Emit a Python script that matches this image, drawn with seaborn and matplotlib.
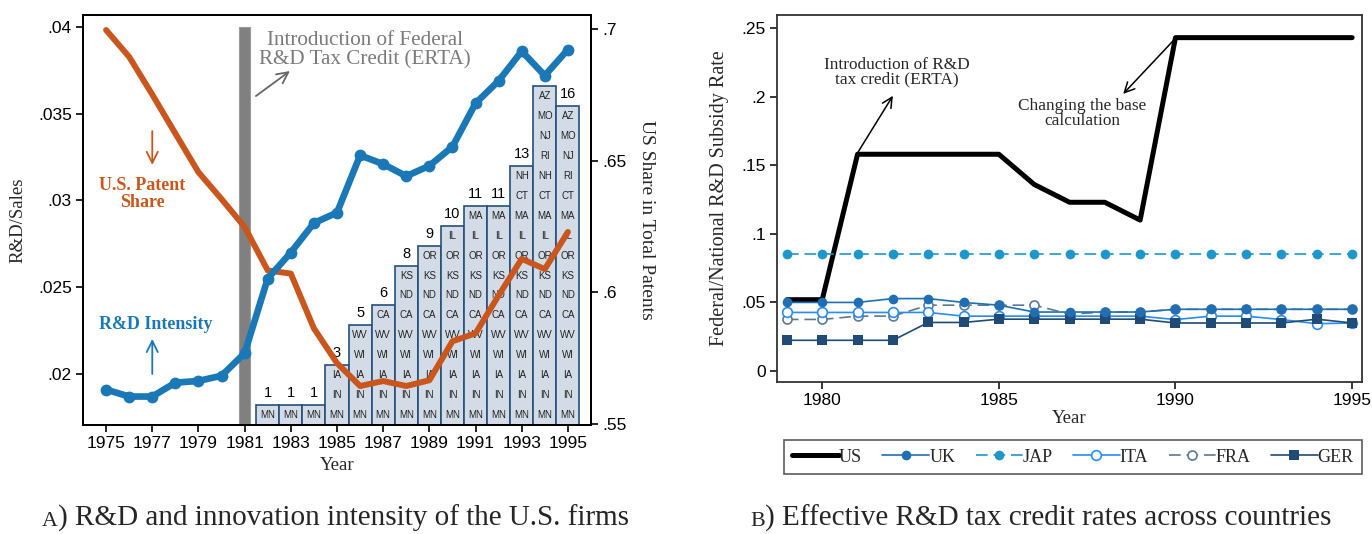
import matplotlib
matplotlib.use("Agg")
import matplotlib.pyplot as plt
from matplotlib.ticker import FixedLocator, FuncFormatter
from matplotlib.lines import Line2D
import pandas as pd
import seaborn as sns

# ---------------- Panel A: U.S. firms ----------------
years_a = [1975, 1976, 1977, 1978, 1979, 1980, 1981, 1982, 1983, 1984, 1985,
           1986, 1987, 1988, 1989, 1990, 1991, 1992, 1993, 1994, 1995]
rd_sales = [0.0191, 0.0187, 0.0187, 0.0195, 0.0196, 0.0199, 0.0212, 0.0255,
            0.0270, 0.0287, 0.0293, 0.0326, 0.0321, 0.0314, 0.0320, 0.0331,
            0.0356, 0.0369, 0.0386, 0.0372, 0.0387]
us_patent_share = [0.6996, 0.6894, 0.6751, 0.6603, 0.6456, 0.6354, 0.6248,
                   0.6083, 0.6071, 0.5863, 0.5731, 0.5644, 0.5663, 0.5644,
                   0.5666, 0.5814, 0.5844, 0.5988, 0.6127, 0.6088, 0.6229]

# States with an R&D tax credit in place, listed bottom to top of each stack
credit_years = [1982, 1983, 1984, 1985, 1986, 1987, 1988, 1989, 1990, 1991,
                1992, 1993, 1994, 1995]
credit_states = [
    ["MN"],
    ["MN"],
    ["MN"],
    ["MN", "IN", "IA"],
    ["MN", "IN", "IA", "WI", "WV"],
    ["MN", "IN", "IA", "WI", "WV", "CA"],
    ["MN", "IN", "IA", "WI", "WV", "CA", "ND", "KS"],
    ["MN", "IN", "IA", "WI", "WV", "CA", "ND", "KS", "OR"],
    ["MN", "IN", "IA", "WI", "WV", "CA", "ND", "KS", "OR", "IL"],
    ["MN", "IN", "IA", "WI", "WV", "CA", "ND", "KS", "OR", "IL", "MA"],
    ["MN", "IN", "IA", "WI", "WV", "CA", "ND", "KS", "OR", "IL", "MA"],
    ["MN", "IN", "IA", "WI", "WV", "CA", "ND", "KS", "OR", "IL", "MA", "CT", "NH"],
    ["MN", "IN", "IA", "WI", "WV", "CA", "ND", "KS", "OR", "IL", "MA", "CT", "NH",
     "RI", "NJ", "MO", "AZ"],
    ["MN", "IN", "IA", "WI", "WV", "CA", "ND", "KS", "OR", "IL", "MA", "CT",
     "RI", "NJ", "MO", "AZ"],
]
hidden_count_years = [1994]  # count sits under the R&D line
erta_year = [1981]
erta_top = [0.04]

# ---------------- Panel B: subsidy rates ----------------
years_b = [1979, 1980, 1981, 1982, 1983, 1984, 1985, 1986, 1987, 1988, 1989,
           1990, 1991, 1992, 1993, 1994, 1995]
rate_us = [0.052, 0.052, 0.158, 0.158, 0.158, 0.158, 0.158, 0.136, 0.123,
           0.123, 0.110, 0.243, 0.243, 0.243, 0.243, 0.243, 0.243]
rate_uk = [0.050, 0.050, 0.050, 0.0528, 0.0528, 0.050, 0.048, 0.0430, 0.0430,
           0.0430, 0.0430, 0.045, 0.045, 0.045, 0.045, 0.045, 0.045]
rate_jap = [0.085, 0.085, 0.085, 0.085, 0.085, 0.085, 0.085, 0.085, 0.085,
            0.085, 0.085, 0.085, 0.085, 0.085, 0.085, 0.085, 0.085]
rate_ita = [0.0427, 0.0427, 0.0427, 0.0427, 0.0427, 0.040, 0.040, 0.040, 0.040,
            0.040, 0.040, 0.0375, 0.040, 0.040, 0.0375, 0.0345, 0.035]
rate_fra = [0.0376, 0.0376, 0.040, 0.040, 0.048, 0.048, 0.048, 0.048, 0.0415,
            0.0430, 0.0430, 0.045, 0.045, 0.045, 0.045, 0.045, 0.045]
rate_ger = [0.0224, 0.0224, 0.0224, 0.0224, 0.0354, 0.0354, 0.0378, 0.0378,
            0.0378, 0.0378, 0.0378, 0.035, 0.035, 0.035, 0.035, 0.0378, 0.035]
countries = ["US", "UK", "JAP", "ITA", "FRA", "GER"]
draw_order = ["US", "JAP", "FRA", "ITA", "GER", "UK"]

# ---------------- style ----------------
sns.set_theme(style="white")
plt.rcParams["font.family"] = ["Liberation Serif", "DejaVu Serif"]
plt.rcParams["axes.linewidth"] = 1.4
plt.rcParams["axes.edgecolor"] = "black"

BLUE = "#1b78b6"
ORANGE = "#c9571d"
BAR_FILL = "#d3dce6"
BAR_EDGE = "#24507a"
TICK_FONT = "Liberation Sans"
TICK_SIZE = 12.5

def no_lead_zero(v, pos=None):
    s = f"{v:g}"
    if s.startswith("0."):
        s = s[1:]
    return s

W, H = 1372, 534
fig = plt.figure(figsize=(W / 100, H / 100), dpi=100)

def rect(x0, y0, x1, y1):
    return [x0 / W, (H - y1) / H, (x1 - x0) / W, (y1 - y0) / H]

# ================= Panel A =================
ax_l = fig.add_axes(rect(83, 15, 591, 425))
ax_l.set_zorder(1)
ax_b = ax_l.twinx()
ax_b.set_zorder(2)
ax_r = ax_l.twinx()
ax_r.set_zorder(3)
ax_t = fig.add_axes(rect(83, 15, 591, 425), sharex=ax_l, sharey=ax_l)
ax_t.set_zorder(4)
ax_t.patch.set_visible(False)

ax_l.set_xlim(1974, 1996)
ax_l.set_ylim(0.01706, 0.04069)
ax_r.set_ylim(0.5496, 0.7053)
ax_b.set_ylim(0, 20.57)

# ERTA marker bar
ax_l.bar(erta_year, [erta_top[0] - 0.01706], bottom=0.01706, width=0.47,
         color="#808080", edgecolor="#9a9a9a", linewidth=0.8, zorder=2)

# state credit bars
counts = [len(s) for s in credit_states]
ax_b.bar(credit_years, counts, width=1.0, color=BAR_FILL, edgecolor=BAR_EDGE,
         linewidth=1.2, zorder=1)
for yr, states in zip(credit_years, credit_states):
    for i, st in enumerate(states):
        ax_b.text(yr, i + 0.5, st, ha="center", va="center", fontsize=7,
                  family=TICK_FONT, color="#222222", zorder=3)
    if yr not in hidden_count_years:
        ax_b.text(yr, len(states) + 0.25, str(len(states)), ha="center",
                  va="bottom", fontsize=10.5, family=TICK_FONT, color="black",
                  zorder=3)
ax_b.yaxis.set_visible(False)
for sp in ax_b.spines.values():
    sp.set_visible(False)

# U.S. patent share (right scale)
sns.lineplot(x=years_a, y=us_patent_share, ax=ax_r, color=ORANGE,
             linewidth=4.3, solid_joinstyle="round", solid_capstyle="round",
             legend=False)
# R&D intensity (left scale)
sns.lineplot(x=years_a, y=rd_sales, ax=ax_t, color=BLUE, linewidth=4.8,
             marker="o", markersize=8.5, markeredgewidth=0, markeredgecolor=BLUE,
             solid_joinstyle="round", solid_capstyle="round", legend=False)
ax_t.set_axis_off()

# axes, ticks
ax_l.xaxis.set_major_locator(FixedLocator(years_a[::2]))
ax_l.yaxis.set_major_locator(FixedLocator([0.02, 0.025, 0.03, 0.035, 0.04]))
ax_l.yaxis.set_major_formatter(FuncFormatter(no_lead_zero))
ax_r.yaxis.set_major_locator(FixedLocator([0.55, 0.6, 0.65, 0.7]))
ax_r.yaxis.set_major_formatter(FuncFormatter(no_lead_zero))
for a in (ax_l, ax_r):
    a.tick_params(axis="both", which="major", direction="out", length=5,
                  width=1.2, labelsize=TICK_SIZE, labelfontfamily=TICK_FONT,
                  colors="black", pad=3)
ax_l.tick_params(axis="x", bottom=True)
ax_l.tick_params(axis="y", left=True)
ax_r.tick_params(axis="y", right=True)

ax_l.set_xlabel("Year", fontsize=13.5)
ax_l.xaxis.set_label_coords(0.5, -0.078)
ax_l.set_ylabel("R&D/Sales", fontsize=13.5)
ax_l.yaxis.set_label_coords(-0.112, 0.5)
ax_r.set_ylabel("US Share in Total Patents", fontsize=14, rotation=270,
                va="bottom")
ax_r.yaxis.set_label_coords(1.092, 0.5)

# annotations
ax_t.text(1986.2, 0.03868, "Introduction of Federal\nR&D Tax Credit (ERTA)",
          ha="center", va="center", color="#7a7a7a", fontsize=15.2,
          linespacing=1.0, zorder=6)
ax_t.annotate("", xy=(1982.96, 0.03746), xytext=(1981.49, 0.03602),
              arrowprops=dict(arrowstyle="->", color="#666666", lw=1.3,
                              mutation_scale=20, shrinkA=0, shrinkB=0))
ax_t.text(1976.55, 0.03037, "U.S. Patent\nShare", ha="center", va="center",
          color=ORANGE, fontsize=13, fontweight="bold", linespacing=0.95)
ax_t.annotate("", xy=(1977, 0.03205), xytext=(1977, 0.0340),
              arrowprops=dict(arrowstyle="->", color=ORANGE, lw=1.3,
                              mutation_scale=20, shrinkA=0, shrinkB=0))
ax_t.text(1977.16, 0.02288, "R&D Intensity", ha="center", va="center",
          color=BLUE, fontsize=13, fontweight="bold")
ax_t.annotate("", xy=(1977, 0.02202), xytext=(1977, 0.0200),
              arrowprops=dict(arrowstyle="->", color=BLUE, lw=1.3,
                              mutation_scale=20, shrinkA=0, shrinkB=0))

# ================= Panel B =================
ax2 = fig.add_axes(rect(777, 15, 1362, 382))
ax2.set_xlim(1978.72, 1995.28)
ax2.set_ylim(-0.008, 0.2595)

styles = {
    "US":  dict(color="black", linewidth=3.6, linestyle="-", marker=None),
    "UK":  dict(color="#1f6fb2", linewidth=1.2, linestyle="-", marker="o",
                markersize=7, markeredgewidth=0, markeredgecolor="#1f6fb2"),
    "JAP": dict(color="#1d96c9", linewidth=1.2, linestyle=(0, (7, 3.5)),
                marker="o", markersize=7, markeredgewidth=0,
                markeredgecolor="#1d96c9"),
    "ITA": dict(color="#2a8cf0", linewidth=1.2, linestyle="-", marker="o",
                markersize=7, markerfacecolor="white", markeredgewidth=1.2,
                markeredgecolor="#2a8cf0"),
    "FRA": dict(color="#5b7990", linewidth=1.2, linestyle=(0, (7, 3.5)),
                marker="o", markersize=6.5, markerfacecolor="white",
                markeredgewidth=1.2, markeredgecolor="#5b7990"),
    "GER": dict(color="#1f4b76", linewidth=1.2, linestyle="-", marker="s",
                markersize=7, markeredgewidth=0, markeredgecolor="#1f4b76"),
}
series = [rate_us, rate_uk, rate_jap, rate_ita, rate_fra, rate_ger]
rates = pd.DataFrame({"Year": years_b, **dict(zip(countries, series))})
for c in draw_order:
    sns.lineplot(data=rates, x="Year", y=c, ax=ax2, legend=False, **styles[c])

ax2.xaxis.set_major_locator(FixedLocator([1980, 1985, 1990, 1995]))
ax2.yaxis.set_major_locator(FixedLocator([0, 0.05, 0.1, 0.15, 0.2, 0.25]))
ax2.yaxis.set_major_formatter(FuncFormatter(no_lead_zero))
ax2.tick_params(axis="both", which="major", direction="out", length=5,
                width=1.1, labelsize=TICK_SIZE, labelfontfamily=TICK_FONT,
                colors="black", pad=3, bottom=True, left=True)
for sp in ax2.spines.values():
    sp.set_color("#333333")
    sp.set_linewidth(1.3)
ax2.set_xlabel("Year", fontsize=13.5)
ax2.xaxis.set_label_coords(0.5, -0.077)
ax2.set_ylabel("Federal/National R&D Subsidy Rate", fontsize=14.5)
ax2.yaxis.set_label_coords(-0.082, 0.5)

ax2.text(1982.1, 0.2177, "Introduction of R&D\ntax credit (ERTA)", ha="center",
         va="center", fontsize=12.4, linespacing=0.9)
ax2.annotate("", xy=(1982.0, 0.2006), xytext=(1981.0, 0.159),
             arrowprops=dict(arrowstyle="->", color="black", lw=1.1,
                             mutation_scale=18, shrinkA=0, shrinkB=0))
ax2.text(1987.36, 0.1875, "Changing the base\ncalculation", ha="center",
         va="center", fontsize=12.4, linespacing=0.9)
ax2.annotate("", xy=(1988.52, 0.202), xytext=(1990.0, 0.2425),
             arrowprops=dict(arrowstyle="->", color="black", lw=1.1,
                             mutation_scale=18, shrinkA=0, shrinkB=0))

handles = [Line2D([], [], **styles[c]) for c in countries]
leg = fig.legend(handles, countries, loc="center", ncol=6, mode="expand",
                 bbox_to_anchor=(784 / W, (H - 474) / H, 578 / W, 34 / H),
                 bbox_transform=fig.transFigure, frameon=True, fancybox=False,
                 fontsize=13, handlelength=2.6, handletextpad=0.0,
                 borderaxespad=0, borderpad=0.45, columnspacing=1.0)
leg.get_frame().set_edgecolor("#333333")
leg.get_frame().set_linewidth(1.2)

# ================= captions =================
fig.canvas.draw()
renderer = fig.canvas.get_renderer()

def caption(x_px, letter, rest):
    t = fig.text(x_px / W, 8 / H, letter, fontsize=15.8, va="baseline",
                 ha="left")
    bb = t.get_window_extent(renderer)
    fig.text(bb.x1 / W, 8 / H, rest, fontsize=21, va="baseline", ha="left")

caption(42, "A", ") R&D and innovation intensity of the U.S. firms")
caption(750, "B", ") Effective R&D tax credit rates across countries")

fig.savefig("out.png", dpi=100)
